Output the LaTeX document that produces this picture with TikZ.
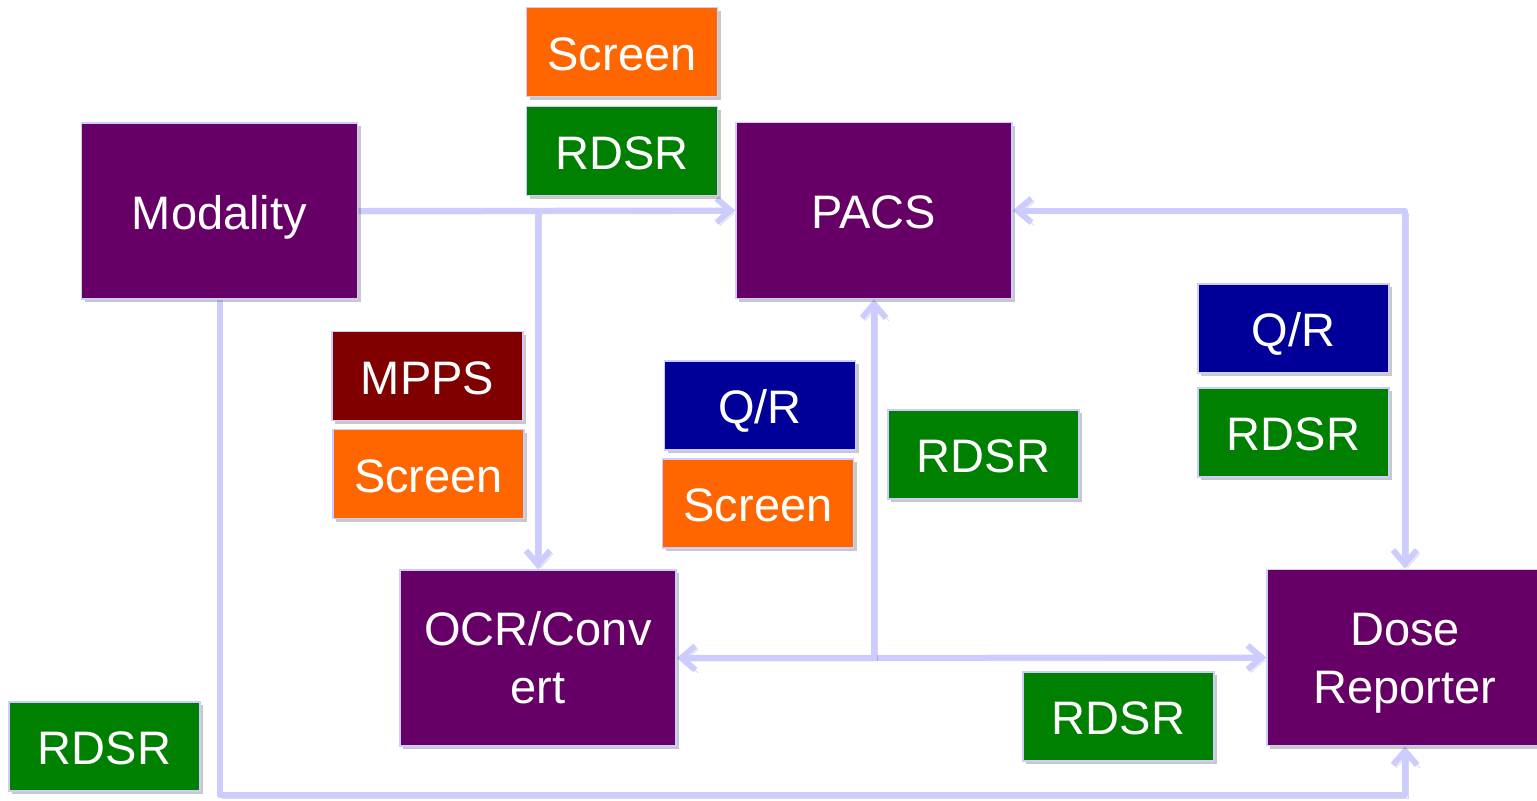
\documentclass[tikz,border=0pt]{standalone}
\usepackage{fontspec}
\setmainfont{Liberation Sans}
\usetikzlibrary{arrows.meta,shadows}
\pgfdeclarelayer{bg}
\pgfsetlayers{bg,main}
\definecolor{boxpurple}{HTML}{660066}
\definecolor{boxorange}{HTML}{FF6600}
\definecolor{boxgreen}{HTML}{008000}
\definecolor{boxnavy}{HTML}{000099}
\definecolor{boxred}{HTML}{800000}
\definecolor{linec}{HTML}{CCCCFF}
\begin{document}
\begin{tikzpicture}[x=0.5pt,y=-0.5pt,
  box/.style={draw=linec, line width=0.8pt, text=white, font=\fontsize{23.5}{29}\selectfont, align=center, inner sep=0pt,
    text height=22pt, text depth=4pt,
    drop shadow={shadow xshift=1.5pt,shadow yshift=-1.5pt,opacity=0.3,fill=black!70}},
  big/.style={box, fill=boxpurple, minimum width=138pt, minimum height=88pt},
  twoline/.style={text height=50pt, text depth=4.5pt},
  tag/.style={box, minimum width=95.5pt, minimum height=44.5pt},
  conn/.style={draw=linec, line width=3pt, line join=round,
    preaction={draw=black, opacity=0.15, transform canvas={shift={(1.5pt,-1.5pt)}}}},
  tip/.style={-{Straight Barb[length=7pt,width=12pt]}},
  tips/.style={{Straight Barb[length=7pt,width=12pt]}-{Straight Barb[length=7pt,width=12pt]}}
  ]
\begin{pgfonlayer}{bg}
\fill[white] (0,0) rectangle (1537,800);
\end{pgfonlayer}
\useasboundingbox (0,0) rectangle (1537,800);

% main boxes
\node[big] (mod) at (219.5,211) {Modality};
\node[big] (pacs) at (874,210.5) {PACS};
\node[big, twoline] (ocr) at (538,658) {OCR/Conv\\ert};
\node[big, twoline] (dose) at (1405,657.5) {Dose\\Reporter};

% tags
\node[tag, fill=boxorange] (scrA) at (622,52) {Screen};
\node[tag, fill=boxgreen] (rdA) at (622,151) {RDSR};
\node[tag, fill=boxred] (mpps) at (427.5,376) {MPPS};
\node[tag, fill=boxorange] (scrB) at (428.5,474) {Screen};
\node[tag, fill=boxnavy] (qrA) at (760,405.5) {Q/R};
\node[tag, fill=boxorange] (scrC) at (758,503.5) {Screen};
\node[tag, fill=boxgreen] (rdB) at (983.5,454.5) {RDSR};
\node[tag, fill=boxnavy] (qrB) at (1293.5,328.5) {Q/R};
\node[tag, fill=boxgreen] (rdC) at (1293.5,432.5) {RDSR};
\node[tag, fill=boxgreen] (rdD) at (1118.5,716.5) {RDSR};
\node[tag, fill=boxgreen] (rdE) at (104.5,746.5) {RDSR};

\coordinate (low) at (0,795);

\begin{pgfonlayer}{bg}
\draw[conn,tip] (mod.east) -- (pacs.west);
\draw[conn,tip] (ocr.north |- mod.east) -- (ocr.north);
\draw[conn,tips] (pacs.east) -| (dose.north);
\draw[conn,tips] (ocr.east) -- (dose.west);
\draw[conn,tip] (pacs.south |- ocr.east) -- (pacs.south);
\draw[conn,tip] (mod.south) |- (dose.south |- low) -- (dose.south);
\end{pgfonlayer}
\end{tikzpicture}
\end{document}
